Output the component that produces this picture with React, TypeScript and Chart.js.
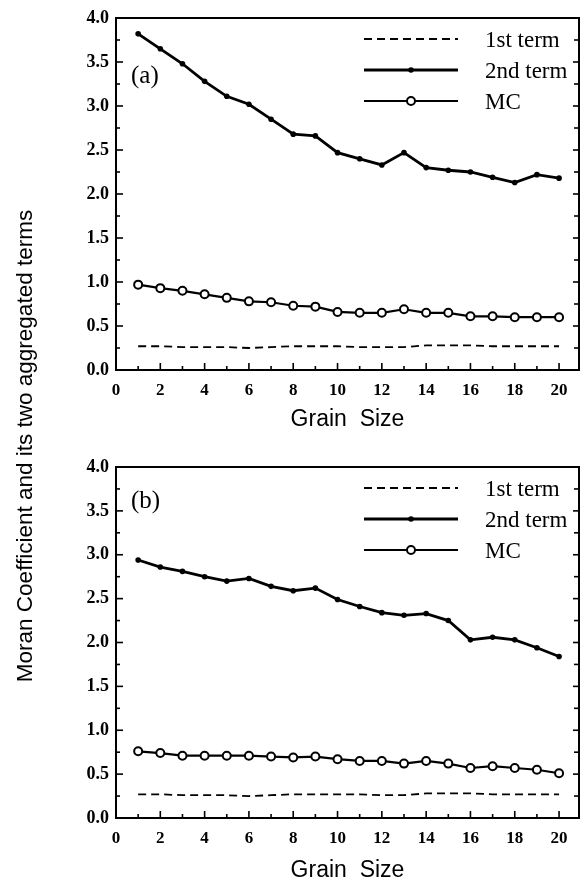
import React, { useEffect, useRef } from "react";
import { Chart, registerables } from "chart.js";

Chart.register(...registerables);

const grainSizes = [1, 2, 3, 4, 5, 6, 7, 8, 9, 10, 11, 12, 13, 14, 15, 16, 17, 18, 19, 20];
const xTickValues = [0, 2, 4, 6, 8, 10, 12, 14, 16, 18, 20];
const yTickValues = [0, 0.5, 1, 1.5, 2, 2.5, 3, 3.5, 4];
const seriesNames = ["1st term", "2nd term", "MC"];

const firstTermA = [0.27, 0.27, 0.26, 0.26, 0.26, 0.25, 0.26, 0.27, 0.27, 0.27, 0.26, 0.26, 0.26, 0.28, 0.28, 0.28, 0.27, 0.27, 0.27, 0.27];
const secondTermA = [3.82, 3.65, 3.48, 3.28, 3.11, 3.02, 2.85, 2.68, 2.66, 2.47, 2.4, 2.33, 2.47, 2.3, 2.27, 2.25, 2.19, 2.13, 2.22, 2.18];
const mcA = [0.97, 0.93, 0.9, 0.86, 0.82, 0.78, 0.77, 0.73, 0.72, 0.66, 0.65, 0.65, 0.69, 0.65, 0.65, 0.61, 0.61, 0.6, 0.6, 0.6];

const firstTermB = [0.27, 0.27, 0.26, 0.26, 0.26, 0.25, 0.26, 0.27, 0.27, 0.27, 0.27, 0.26, 0.26, 0.28, 0.28, 0.28, 0.27, 0.27, 0.27, 0.27];
const secondTermB = [2.94, 2.86, 2.81, 2.75, 2.7, 2.73, 2.64, 2.59, 2.62, 2.49, 2.41, 2.34, 2.31, 2.33, 2.25, 2.03, 2.06, 2.03, 1.94, 1.84];
const mcB = [0.76, 0.74, 0.71, 0.71, 0.71, 0.71, 0.7, 0.69, 0.7, 0.67, 0.65, 0.65, 0.62, 0.65, 0.62, 0.57, 0.59, 0.57, 0.55, 0.51];

const SERIF = "'Liberation Serif', 'Times New Roman', serif";
const SANS = "'Liberation Sans', Arial, sans-serif";

const toPoints = (ys: number[]) => grainSizes.map((g, i) => ({ x: g, y: ys[i] }));

const frameTicksPlugin = {
  id: "frameTicks",
  afterDraw(chart: any) {
    const { ctx, chartArea } = chart;
    const { left, top, right, bottom } = chartArea;
    const x = chart.scales.x;
    const y = chart.scales.y;
    ctx.save();
    ctx.strokeStyle = "#000";
    ctx.lineWidth = 2;
    ctx.strokeRect(left, top, right - left, bottom - top);
    ctx.lineWidth = 1.6;
    const line = (x1: number, y1: number, x2: number, y2: number) => {
      ctx.beginPath();
      ctx.moveTo(x1, y1);
      ctx.lineTo(x2, y2);
      ctx.stroke();
    };
    for (let k = 0; k <= 16; k++) {
      const v = k * 0.25;
      const py = y.getPixelForValue(v);
      const major = k % 2 === 0;
      line(left, py, left + (major ? 7 : 4), py);
      line(right, py, right - (major ? 6 : 5), py);
    }
    for (let v = 1; v <= 20; v++) {
      const px = x.getPixelForValue(v);
      line(px, bottom, px, bottom - (v % 2 === 0 ? 7 : 4));
    }
    ctx.restore();
  },
};

const legendPlugin = {
  id: "customLegend",
  afterDraw(chart: any, _args: any, opts: any) {
    const { ctx, chartArea } = chart;
    const { left, top } = chartArea;
    ctx.save();
    const rows = [21, 52, 83];
    chart.data.datasets.forEach((ds: any, i: number) => {
      const yy = top + rows[i];
      const x1 = left + 248;
      const x2 = left + 342;
      ctx.strokeStyle = "#000";
      ctx.lineWidth = ds.borderWidth;
      ctx.setLineDash(ds.borderDash || []);
      ctx.beginPath();
      ctx.moveTo(x1, yy);
      ctx.lineTo(x2, yy);
      ctx.stroke();
      ctx.setLineDash([]);
      if (ds.pointRadius > 0) {
        ctx.beginPath();
        ctx.arc((x1 + x2) / 2, yy, ds.pointRadius, 0, Math.PI * 2);
        ctx.fillStyle = ds.pointBackgroundColor;
        ctx.fill();
        if (ds.pointBorderWidth > 0) {
          ctx.lineWidth = ds.pointBorderWidth;
          ctx.strokeStyle = ds.pointBorderColor;
          ctx.stroke();
        }
      }
      ctx.fillStyle = "#000";
      ctx.font = `23px ${SERIF}`;
      ctx.textAlign = "left";
      ctx.textBaseline = "middle";
      ctx.fillText(ds.label, left + 369, yy + 2);
    });
    ctx.font = `25px ${SERIF}`;
    ctx.textAlign = "left";
    ctx.textBaseline = "middle";
    ctx.fillStyle = "#000";
    ctx.fillText(opts.panel, left + 15, top + opts.panelOffset);
    ctx.restore();
  },
};

type PanelProps = {
  panel: string;
  panelOffset: number;
  first: number[];
  second: number[];
  mc: number[];
  top: number;
  height: number;
  areaTop: number;
  areaBottom: number;
  titleCenter: number;
};

function Panel(p: PanelProps) {
  const ref = useRef<HTMLCanvasElement | null>(null);
  useEffect(() => {
    if (!ref.current) return;
    const xHeight = p.height - p.areaBottom;
    const titleSize = 23;
    const titleLH = titleSize * 1.2;
    const titleBottomPad = p.height - p.titleCenter - titleLH / 2;
    const chart = new Chart(ref.current, {
      type: "line",
      data: {
        datasets: [
          {
            label: seriesNames[0],
            data: toPoints(p.first),
            borderColor: "#000",
            borderWidth: 1.8,
            borderDash: [8, 5],
            pointRadius: 0,
            pointBorderWidth: 0,
            tension: 0,
          },
          {
            label: seriesNames[1],
            data: toPoints(p.second),
            borderColor: "#000",
            borderWidth: 2.8,
            pointRadius: 2.8,
            pointBackgroundColor: "#000",
            pointBorderColor: "#000",
            pointBorderWidth: 0,
            tension: 0,
          },
          {
            label: seriesNames[2],
            data: toPoints(p.mc),
            borderColor: "#000",
            borderWidth: 2.2,
            pointRadius: 4,
            pointBackgroundColor: "#fff",
            pointBorderColor: "#000",
            pointBorderWidth: 2,
            tension: 0,
          },
        ] as any,
      },
      options: {
        animation: false,
        responsive: false,
        maintainAspectRatio: false,
        layout: { padding: { top: p.areaTop, right: 5, left: 0, bottom: 0 } },
        plugins: {
          legend: { display: false },
          tooltip: { enabled: false },
          customLegend: { panel: p.panel, panelOffset: p.panelOffset },
        } as any,
        scales: {
          x: {
            type: "linear",
            min: 0,
            max: 20.9,
            afterBuildTicks: (s: any) => {
              s.ticks = xTickValues.map((v) => ({ value: v }));
            },
            afterFit: (s: any) => {
              s.height = xHeight;
            },
            grid: { display: false, drawTicks: false },
            border: { display: false },
            ticks: {
              color: "#000",
              padding: 10,
              maxRotation: 0,
              autoSkip: false,
              font: { family: SERIF, size: 17, weight: "bold" },
              callback: (v: any) => String(v),
            },
            title: {
              display: true,
              text: "Grain  Size",
              color: "#000",
              font: { family: SANS, size: titleSize, lineHeight: 1.2 },
              padding: { top: 0, bottom: titleBottomPad },
            },
          },
          y: {
            type: "linear",
            min: 0,
            max: 4,
            afterBuildTicks: (s: any) => {
              s.ticks = yTickValues.map((v) => ({ value: v }));
            },
            afterFit: (s: any) => {
              s.width = 116;
            },
            grid: { display: false, drawTicks: false },
            border: { display: false },
            ticks: {
              color: "#000",
              padding: 7,
              font: { family: SERIF, size: 18, weight: "bold" },
              callback: (v: any) => Number(v).toFixed(1),
            },
          },
        },
      } as any,
      plugins: [frameTicksPlugin, legendPlugin],
    });
    return () => chart.destroy();
  }, []);
  return (
    <canvas
      ref={ref}
      width={585}
      height={p.height}
      style={{ position: "absolute", left: 0, top: p.top, width: 585, height: p.height }}
    />
  );
}

export default function App() {
  return (
    <div style={{ position: "absolute", left: 0, top: 0, width: 585, height: 881, background: "#fff" }}>
      <Panel
        panel="(a)"
        panelOffset={58}
        first={firstTermA}
        second={secondTermA}
        mc={mcA}
        top={0}
        height={440}
        areaTop={18}
        areaBottom={370}
        titleCenter={420}
      />
      <Panel
        panel="(b)"
        panelOffset={34}
        first={firstTermB}
        second={secondTermB}
        mc={mcB}
        top={440}
        height={441}
        areaTop={27}
        areaBottom={378}
        titleCenter={431}
      />
      <div
        style={{
          position: "absolute",
          left: 25 - 350,
          top: 446 - 14,
          width: 700,
          height: 28,
          lineHeight: "28px",
          textAlign: "center",
          whiteSpace: "nowrap",
          transform: "rotate(-90deg)",
          fontFamily: SANS,
          fontSize: 22.5,
          color: "#000",
        }}
      >
        Moran Coefficient and its two aggregated terms
      </div>
    </div>
  );
}
